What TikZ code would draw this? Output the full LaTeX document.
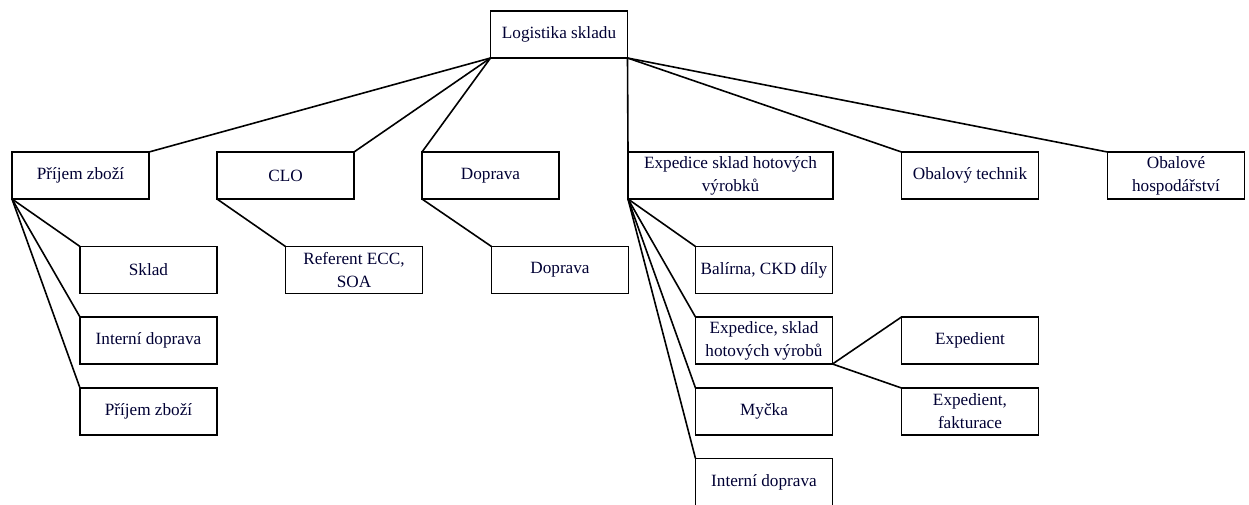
\documentclass[tikz,border=0pt]{standalone}
\usepackage{fontspec}
\setmainfont{Liberation Serif}
\begin{document}
\begin{tikzpicture}[x=0.5pt,y=-0.5pt,
  box/.style={draw, line width=0.8pt, minimum width=68.5pt, minimum height=23.5pt,
    inner sep=0pt, outer sep=0pt, align=center, text=black!80!blue,
    font=\fontsize{8.6}{11.5}\selectfont},
  widebox/.style={box, minimum width=102.5pt},
  link/.style={line width=0.8pt}]
\useasboundingbox (0,0) rectangle (1249,504);
% top level
\node[box] (root) at (559,34.5) {Logistika skladu};
% second level
\node[box] (prijem) at (80.5,175.5) {Příjem zboží};
\node[box] (clo) at (285.5,175.5) {CLO};
\node[box] (doprava) at (490.5,175.5) {Doprava};
\node[widebox] (exped) at (730.5,175.5) {Expedice sklad hotových\\výrobků};
\node[box] (technik) at (970,175.5) {Obalový technik};
\node[box] (hosp) at (1176,175.5) {Obalové\\hospodářství};
% third level
\node[box] (sklad) at (148.5,270) {Sklad};
\node[box] (interni) at (148.5,340.5) {Interní doprava};
\node[box] (prijemb) at (148.5,411.5) {Příjem zboží};
\node[box] (referent) at (354,270) {Referent ECC,\\SOA};
\node[box] (dopravab) at (560,270) {Doprava};
\node[box] (balirna) at (764,270) {Balírna, CKD díly};
\node[box] (expsklad) at (764,340.5) {Expedice, sklad\\hotových výrobů};
\node[box] (mycka) at (764,411.5) {Myčka};
\node[box] (internib) at (764,482) {Interní doprava};
\node[box] (expedient) at (970,340.5) {Expedient};
\node[box] (faktur) at (970,411.5) {Expedient,\\fakturace};
% connectors
\draw[link] (root.south west) -- (prijem.north east);
\draw[link] (root.south west) -- (clo.north east);
\draw[link] (root.south west) -- (doprava.north west);
\draw[link] (root.south east) -- (exped.north west);
\draw[link] (root.south east) -- (technik.north west);
\draw[link] (root.south east) -- (hosp.north west);
\foreach \c in {sklad,interni,prijemb}
  \draw[link] (prijem.south west) -- (\c.north west);
\draw[link] (clo.south west) -- (referent.north west);
\draw[link] (doprava.south west) -- (dopravab.north west);
\foreach \c in {balirna,expsklad,mycka,internib}
  \draw[link] (exped.south west) -- (\c.north west);
\draw[link] (expsklad.south east) -- (expedient.north west);
\draw[link] (expsklad.south east) -- (faktur.north west);
\end{tikzpicture}
\end{document}
